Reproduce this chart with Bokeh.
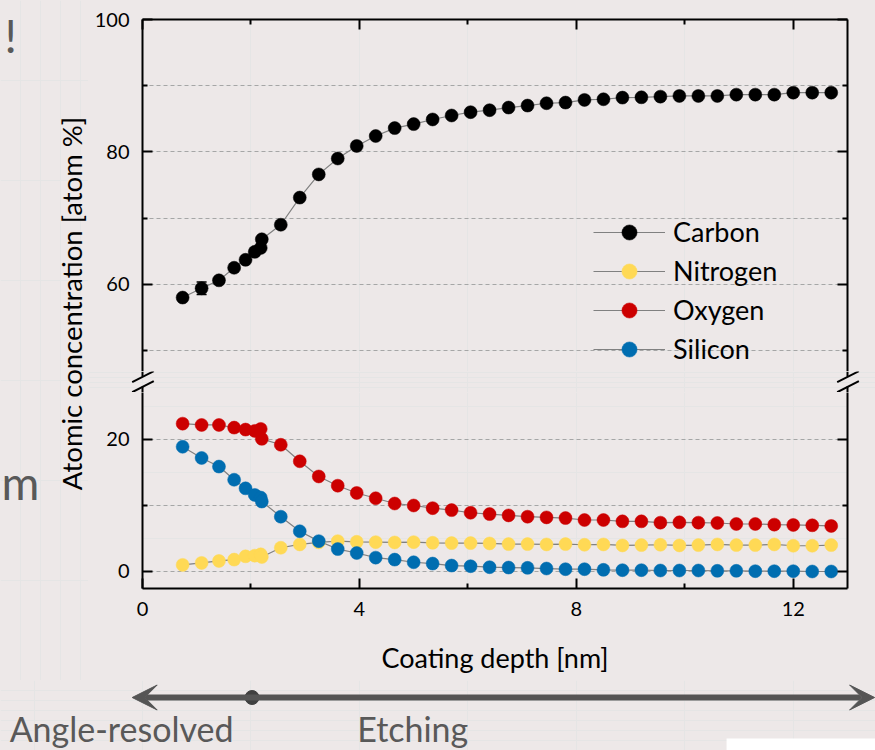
import math
from bokeh.plotting import figure
from bokeh.layouts import column, row
from bokeh.models import (Range1d, LinearAxis, FixedTicker, Grid, Legend, LegendItem,
                          Whisker, TeeHead, Arrow, VeeHead, ColumnDataSource,
                          CustomJSTickFormatter)
from bokeh.core.properties import value
from bokeh.embed import file_html
from bokeh.resources import INLINE

BG = "#EDE8E8"
FONT = "Lato"

# ---------------- data ----------------
depth = [0.74, 1.09, 1.41, 1.69, 1.90, 2.07, 2.18,
         2.20, 2.55, 2.90, 3.25, 3.60, 3.95, 4.30, 4.65, 5.00, 5.35, 5.70, 6.05,
         6.40, 6.75, 7.10, 7.45, 7.80, 8.15, 8.50, 8.85, 9.20, 9.55, 9.90, 10.25,
         10.60, 10.95, 11.30, 11.65, 12.00, 12.35, 12.70]
carbon = [58.0, 59.4, 60.6, 62.5, 63.7, 64.9, 65.5,
          66.8, 69.0, 73.1, 76.6, 79.0, 80.9, 82.4, 83.6, 84.2, 84.9, 85.5, 86.0,
          86.3, 86.7, 87.0, 87.35, 87.45, 87.85, 87.95, 88.2, 88.25, 88.35, 88.45, 88.45,
          88.45, 88.65, 88.65, 88.65, 88.95, 88.95, 88.95]
nitrogen = [1.0, 1.3, 1.6, 1.8, 2.3, 2.4, 2.6,
            2.2, 3.6, 4.1, 4.4, 4.6, 4.5, 4.45, 4.4, 4.45, 4.35, 4.3, 4.3,
            4.25, 4.15, 4.15, 4.1, 4.15, 4.05, 4.1, 3.95, 4.0, 4.05, 3.95, 4.0,
            4.1, 4.0, 4.0, 4.1, 3.9, 3.9, 4.0]
oxygen = [22.4, 22.2, 22.2, 21.8, 21.5, 21.3, 21.6,
          20.1, 19.2, 16.7, 14.4, 13.0, 11.9, 11.1, 10.3, 10.0, 9.6, 9.3, 8.9,
          8.7, 8.5, 8.3, 8.2, 8.1, 7.8, 7.8, 7.6, 7.6, 7.4, 7.45, 7.4,
          7.35, 7.2, 7.2, 7.1, 7.05, 7.0, 6.9]
silicon = [18.9, 17.2, 15.9, 13.9, 12.6, 11.6, 11.2,
           10.6, 8.3, 6.1, 4.6, 3.4, 2.8, 2.1, 1.8, 1.4, 1.2, 0.9, 0.8,
           0.65, 0.6, 0.55, 0.45, 0.35, 0.35, 0.25, 0.2, 0.2, 0.15, 0.15, 0.15,
           0.1, 0.1, 0.05, 0.05, 0.05, 0.0, 0.0]

series_names = ["Carbon", "Nitrogen", "Oxygen", "Silicon"]
series_values = [carbon, nitrogen, oxygen, silicon]
series_colors = ["#000000", "#FFD955", "#CC0000", "#006DB0"]

carbon_err_x = [1.09]
carbon_err_lo = [58.45]
carbon_err_hi = [60.35]

x_major = [0, 4, 8, 12]
x_minor = [2, 6, 10]
upper_major = [60, 80, 100]
upper_minor = [50, 70, 90]
upper_grid = [50, 60, 70, 80, 90]
lower_major = [0, 20]
lower_minor = [10]
lower_grid = [0, 10, 20]

x_label = "Coating depth [nm]"
y_label = "Atomic concentration [atom %]"
stage_labels = ["Angle-resolved", "Etching"]
stage_boundary = 2.02

# ---------------- helpers ----------------
x_range = Range1d(0, 13)


def style_axis(ax, labels):
    ax.axis_line_width = 2
    ax.axis_line_color = "black"
    ax.major_tick_line_width = 2
    ax.minor_tick_line_width = 2
    ax.major_tick_line_color = "black"
    ax.minor_tick_line_color = "black"
    ax.major_tick_in = 10
    ax.major_tick_out = 0
    ax.minor_tick_in = 5
    ax.minor_tick_out = 0
    ax.major_label_text_font = FONT
    ax.major_label_text_font_size = "20px"
    ax.major_label_text_color = "black"
    if not labels:
        ax.formatter = CustomJSTickFormatter(code="return ''")
        ax.major_label_standoff = 0


def bg(p):
    p.background_fill_color = BG
    p.border_fill_color = BG
    p.outline_line_color = None


def make_panel(y0, y1, height, mb_top, mb_bottom):
    p = figure(width=787, height=height, x_range=x_range, y_range=Range1d(y0, y1),
               x_axis_location=None, y_axis_location=None,
               toolbar_location=None, output_backend="svg",
               min_border_left=54, min_border_right=28,
               min_border_top=mb_top, min_border_bottom=mb_bottom)
    bg(p)
    return p


# ---------------- panels ----------------
top = make_panel(46.83, 100, 371, 19, 0)
bot = make_panel(-2.576, 27.12, 288, 0, 92)

for p, gticks in ((top, upper_grid), (bot, lower_grid)):
    p.add_layout(Grid(dimension=1, ticker=FixedTicker(ticks=gticks),
                      grid_line_color="#A6A6A6", grid_line_width=1,
                      grid_line_dash="4 3"))

legend_items = []
for p in (top, bot):
    line_rs = []
    for vals in series_values:
        line_rs.append(p.line(depth, vals, line_color="#808080", line_width=1.2))
    dot_rs = []
    for vals, col in zip(series_values, series_colors):
        dot_rs.append(p.scatter(depth, vals, size=13, fill_color=col,
                                line_color=col, line_width=0.5))
    if p is top:
        for name, lr, dr in zip(series_names, line_rs, dot_rs):
            legend_items.append(LegendItem(label=name, renderers=[lr, dr]))

err_src = ColumnDataSource(dict(x=carbon_err_x, lo=carbon_err_lo, hi=carbon_err_hi))
top.add_layout(Whisker(base="x", lower="lo", upper="hi", source=err_src,
                       dimension="height", line_color="black", line_width=1.5,
                       upper_head=TeeHead(size=10, line_color="black", line_width=1.5),
                       lower_head=TeeHead(size=10, line_color="black", line_width=1.5)))

legend = Legend(items=legend_items, location=(451, 3.3), orientation="vertical",
                glyph_width=72, glyph_height=38, label_height=38, spacing=1,
                padding=0, margin=0, label_standoff=8,
                label_text_font=FONT, label_text_font_size="27px",
                label_text_color="black",
                background_fill_alpha=0, border_line_alpha=0)
top.add_layout(legend)

# axes of the upper panel
ax = LinearAxis(ticker=FixedTicker(ticks=upper_major, minor_ticks=upper_minor))
style_axis(ax, True)
ax.major_label_standoff = 13
top.add_layout(ax, "left")
ax = LinearAxis(ticker=FixedTicker(ticks=upper_major, minor_ticks=upper_minor))
style_axis(ax, False)
top.add_layout(ax, "right")
ax = LinearAxis(ticker=FixedTicker(ticks=x_major, minor_ticks=x_minor))
style_axis(ax, False)
top.add_layout(ax, "above")

# axes of the lower panel
ax = LinearAxis(ticker=FixedTicker(ticks=lower_major, minor_ticks=lower_minor))
style_axis(ax, True)
ax.major_label_standoff = 13
bot.add_layout(ax, "left")
ax = LinearAxis(ticker=FixedTicker(ticks=lower_major, minor_ticks=lower_minor))
style_axis(ax, False)
bot.add_layout(ax, "right")
ax = LinearAxis(ticker=FixedTicker(ticks=x_major, minor_ticks=x_minor))
style_axis(ax, True)
ax.major_label_standoff = 13
ax.axis_label = x_label
ax.axis_label_text_font = FONT
ax.axis_label_text_font_size = "27px"
ax.axis_label_text_font_style = "normal"
ax.axis_label_text_color = "black"
ax.axis_label_standoff = 22
bot.add_layout(ax, "below")

# ---------------- axis-break strip ----------------
brk = figure(width=787, height=21, x_range=Range1d(-0.99574, 13.5163), y_range=Range1d(0, 21),
             x_axis_location=None, y_axis_location=None, toolbar_location=None,
             output_backend="svg", min_border=0)
bg(brk)
# continuation of the left/right spines around the gap
brk.segment(x0=[0, 0, 13, 13], y0=[21, 0, 21, 0], x1=[0, 0, 13, 13], y1=[16, 6, 16, 6],
            line_color="black", line_width=2)
# the "//" marks
brk.segment(x0=[-0.19, -0.19, 12.81, 12.81], y0=[10.3, 0.3, 10.3, 0.3],
            x1=[0.208, 0.208, 13.21, 13.21], y1=[21.3, 11.3, 21.3, 11.3],
            line_color="black", line_width=2)

# ---------------- left strip (y label, slide text) ----------------
left = figure(width=88, height=680, x_range=Range1d(0, 88), y_range=Range1d(0, 680),
              x_axis_location=None, y_axis_location=None, toolbar_location=None,
              output_backend="svg", min_border=0)
bg(left)
left.text(x=[71], y=[377], text=[y_label], angle=math.pi / 2,
          text_font=value(FONT), text_font_size="27.5px", text_color="black",
          text_align="center", text_baseline="middle")
left.text(x=[4, 1], y=[645, 198], text=["!", "m"],
          text_font=value(FONT), text_font_size="46px", text_color="#595959",
          text_align="left", text_baseline="middle")

# ---------------- bottom strip (arrow) ----------------
arr = figure(width=875, height=70, x_range=Range1d(-2.6185, 13.5163), y_range=Range1d(0, 70),
             x_axis_location=None, y_axis_location=None, toolbar_location=None,
             output_backend="svg", min_border=0)
bg(arr)
arr.quad(left=[10.77], right=[13.6], bottom=[0], top=[12], fill_color="white", line_color=None)
arr.add_layout(Arrow(x_start=-0.19, y_start=53, x_end=13.5, y_end=53,
                     line_color="#555555", line_width=6,
                     start=VeeHead(size=25, fill_color="#555555", line_color="#555555"),
                     end=VeeHead(size=25, fill_color="#555555", line_color="#555555")))
arr.scatter([stage_boundary], [53], size=14, fill_color="#404040", line_color="#404040")
arr.text(x=[-2.45, 3.96], y=[22, 22], text=stage_labels,
         text_font=value(FONT), text_font_size="34px", text_color="#595959",
         text_align="left", text_baseline="middle")

layout = column(row(left, column(top, row(brk, spacing=0), bot, spacing=0), spacing=0),
                arr, spacing=0)

html = file_html(layout, INLINE)
html = html.replace("<head>", "<head><style>html,body{margin:0;padding:0;background:%s;}</style>" % BG, 1)
with open("out.html", "w") as f:
    f.write(html)
